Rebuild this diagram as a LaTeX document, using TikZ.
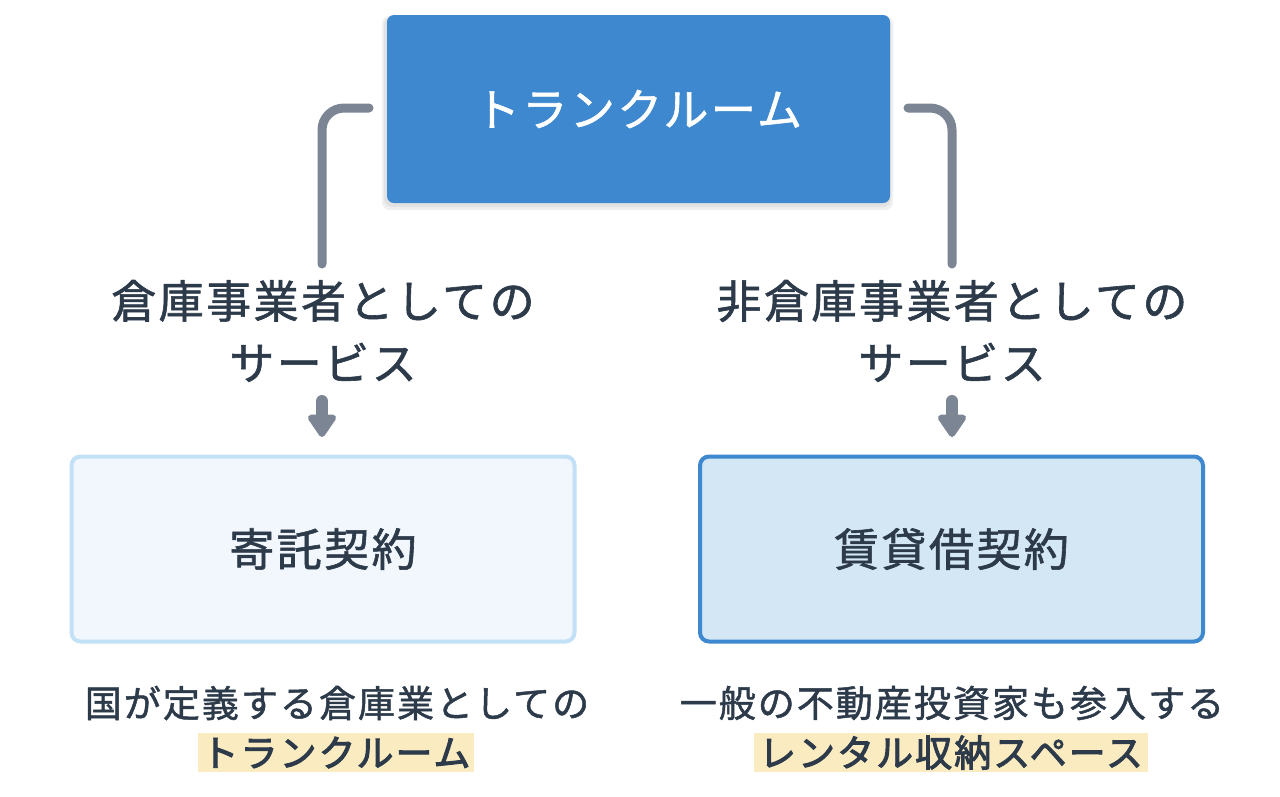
\documentclass[tikz,border=0pt]{standalone}
\usepackage{fontspec}
\setmainfont{Noto Sans CJK JP}[FakeBold=1.3, LetterSpace=5.5]
\newfontfamily\jpb{Noto Sans CJK JP}[FakeBold=2.6, LetterSpace=5.5]
\usetikzlibrary{arrows.meta}
\definecolor{topblue}{HTML}{3D88CE}
\definecolor{conngray}{HTML}{7B8594}
\definecolor{txtdark}{HTML}{2C3A4A}
\definecolor{lfill}{HTML}{F2F7FD}
\definecolor{lborder}{HTML}{C2E0F6}
\definecolor{rfill}{HTML}{D3E7F5}
\definecolor{hl}{HTML}{FAEBC0}
\tikzset{
  conn/.style={draw=conngray, line width=9pt, line cap=round, rounded corners=22pt},
  downarrow/.style={draw=conngray, line width=12pt, line cap=round,
     -{Triangle[width=32pt,length=25pt,round]}},
  bigtxt/.style={text=txtdark, font=\fontsize{45}{62}\selectfont, align=center},
  smalltxt/.style={text=txtdark, font=\fontsize{37}{45}\selectfont, align=center},
  hlbox/.style={fill=hl, inner sep=0pt, minimum height=39pt, text=txtdark,
     font=\jpb\fontsize{37}{45}\selectfont},
  contract/.style={rounded corners=9pt, line width=4pt, minimum width=503pt,
     minimum height=185pt, text=txtdark, font=\fontsize{45}{55}\selectfont}
}
\begin{document}
\begin{tikzpicture}[x=1pt,y=-1pt]
\useasboundingbox (0,0) rectangle (1280,796);
% shadow
\fill[black, opacity=0.06, rounded corners=8pt] (382,16) rectangle (893,210);
\fill[black, opacity=0.06, rounded corners=8pt] (384,17) rectangle (891,207);
\node[fill=topblue, rounded corners=7pt, minimum width=503pt, minimum height=188pt,
      inner sep=0pt, text=white, font=\fontsize{45}{55}\selectfont] (top) at (638.5,109) {トランクルーム};
% labels
\node[bigtxt] (llab) at (323,331) {倉庫事業者としての\\サービス};
\node[bigtxt] (rlab) at (952,331) {非倉庫事業者としての\\サービス};
% connectors
\coordinate (ls) at (369,108);
\coordinate (le) at (322,264);
\coordinate (rs) at (908,108);
\coordinate (re) at (952,264);
\draw[conn] (ls) -| (le);
\draw[conn] (rs) -| (re);
% boxes
\node[contract, draw=lborder, fill=lfill] (lbox) at (323,549) {寄託契約};
\node[contract, draw=topblue, fill=rfill] (rbox) at (951.5,549) {賃貸借契約};
% arrows
\coordinate (la1) at (322,401);
\coordinate (la2) at (322,437);
\coordinate (ra1) at (952,401);
\coordinate (ra2) at (952,437);
\draw[downarrow] (la1) -- (la2);
\draw[downarrow] (ra1) -- (ra2);
% bottom notes
\node[smalltxt] (lnote) at (337,703) {国が定義する倉庫業としての};
\node[hlbox, minimum width=276pt] (lhl) at (336,752.5) {トランクルーム};
\node[smalltxt] (rnote) at (952,703) {一般の不動産投資家も参入する};
\node[hlbox, minimum width=394pt] (rhl) at (951,752.5) {レンタル収納スペース};
\end{tikzpicture}
\end{document}
